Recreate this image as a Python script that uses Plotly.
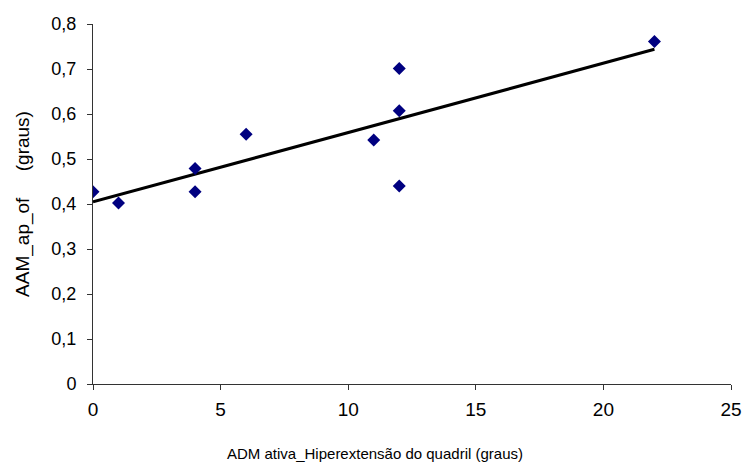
import numpy as np
import plotly.graph_objects as go

x_vals = [0, 1, 4, 4, 6, 11, 12, 12, 12, 22]
y_vals = [0.427, 0.402, 0.479, 0.427, 0.555, 0.542, 0.701, 0.607, 0.44, 0.761]

x_title = "ADM ativa_Hiperextensão do quadril (graus)"
y_title = "AAM_ap_of\u00a0\u00a0\u00a0\u00a0\u00a0(graus)"

slope, intercept = np.polyfit(x_vals, y_vals, 1)
x_fit = [min(x_vals), max(x_vals)]
y_fit = [intercept + slope * v for v in x_fit]

fig = go.Figure()
fig.add_trace(go.Scatter(x=x_fit, y=y_fit, mode="lines",
                         line=dict(color="black", width=3), showlegend=False,
                         hoverinfo="skip"))
fig.add_trace(go.Scatter(x=x_vals, y=y_vals, mode="markers",
                         marker=dict(symbol="diamond", size=10, color="#000080",
                                     line=dict(width=0)),
                         showlegend=False))

base = "Liberation Sans, Arial, sans-serif"
fig.update_layout(
    width=742, height=467,
    margin=dict(l=93, r=11, t=24, b=83, autoexpand=False),
    paper_bgcolor="white", plot_bgcolor="white",
    separators=",.",
    font=dict(family=base, size=18, color="black"),
    xaxis=dict(range=[0, 25], dtick=5, tick0=0, showgrid=False, zeroline=False,
               showline=True, linecolor="#333", linewidth=1,
               ticks="outside", ticklen=5, tickcolor="#333", ticklabelstandoff=3,
               ticklabeloverflow="allow",
               tickfont=dict(family=base, size=19, color="black")),
    yaxis=dict(range=[0, 0.8], dtick=0.1, tick0=0, showgrid=False, zeroline=False,
               showline=True, linecolor="#333", linewidth=1,
               ticks="outside", ticklen=5, tickcolor="#333", ticklabelstandoff=7,
               tickfont=dict(family=base, size=18, color="black"),
               title=dict(text=y_title, font=dict(family=base, size=19, color="black"),
                          standoff=16)),
    annotations=[dict(text=x_title, xref="paper", yref="paper", x=0.442, y=-0.192,
                      xanchor="center", yanchor="middle", showarrow=False,
                      font=dict(family=base, size=15, color="black"))],
)
fig.write_html("out.html", config={"displayModeBar": False},
               post_script="document.body.style.margin='0';document.body.style.overflow='hidden';")
